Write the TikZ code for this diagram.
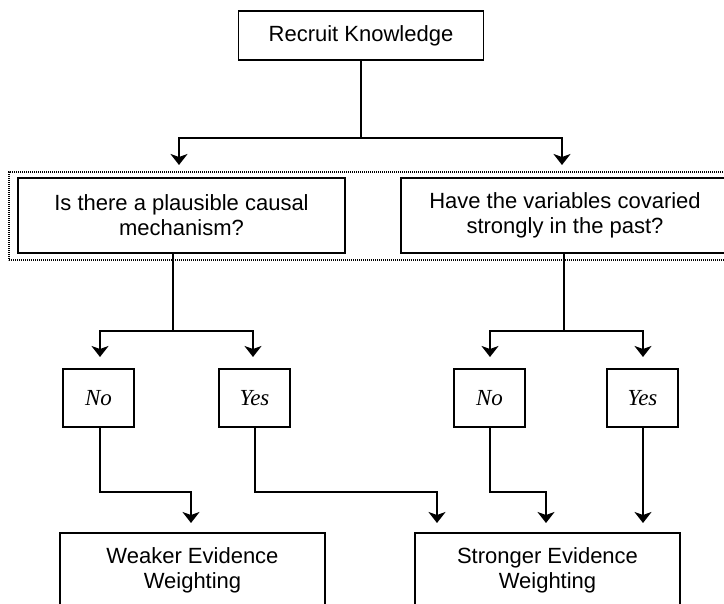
\documentclass[tikz,border=0pt]{standalone}
\usepackage{fontspec}
\setmainfont{Liberation Sans}
\newfontfamily\serifit{Liberation Serif}
\usetikzlibrary{arrows.meta}
\begin{document}
\begin{tikzpicture}[x=1pt,y=-1pt,
  box/.style={draw, line width=1.8pt, rectangle, inner sep=0pt, align=center,
    font=\fontsize{22}{25}\selectfont},
  ans/.style={box, minimum width=71pt, minimum height=58pt,
    font=\fontsize{23}{25}\selectfont\serifit\itshape},
  conn/.style={line width=1.8pt},
  arr/.style={conn, -{Stealth[length=11pt,width=17pt,inset=3pt]}},
  grp/.style={draw, line width=1.5pt, dash pattern=on 1.2pt off 0.8pt}]
\useasboundingbox (0,0) rectangle (724,604);

% nodes
\node[box, minimum width=245pt, minimum height=49pt] (rk) at (361,35.5) {Recruit Knowledge};
\node[grp, minimum width=721pt, minimum height=88pt, inner sep=0pt] (grpbox) at (369.5,216) {};
\node[box, minimum width=327pt, minimum height=75pt] (q1) at (181.5,215.5) {Is there a plausible causal\\mechanism?};
\node[box, minimum width=328pt, minimum height=75pt] (q2) at (565,215.5) {Have the variables covaried\\strongly in the past?};
\node[ans] (n1) at (98.5,398) {No};
\node[ans] (y1) at (254.5,398) {Yes};
\node[ans] (n2) at (489.5,398) {No};
\node[ans] (y2) at (642.5,398) {Yes};
\node[box, minimum width=265pt, minimum height=75pt] (w) at (192.5,570.5) {Weaker Evidence\\Weighting};
\node[box, minimum width=265pt, minimum height=75pt] (s) at (547.5,570.5) {Stronger Evidence\\Weighting};

% free ends
\coordinate (t1) at (179,165);
\coordinate (t2) at (562,165);
\coordinate (q1b) at (173,253);
\coordinate (q2b) at (564,253);
\coordinate (a1) at (100,357);
\coordinate (a2) at (253,357);
\coordinate (a3) at (490,357);
\coordinate (a4) at (643,357);
\coordinate (b1) at (191,523);
\coordinate (b2) at (437,523);
\coordinate (b3) at (546,523);
\coordinate (b4) at (643,523);

% connectors
\draw[arr] (rk.south) -- (rk.south |- 0,138) -| (t1);
\draw[arr] (rk.south |- 0,138) -| (t2);

\draw[arr] (q1b) -- (173,331) -| (a1);
\draw[arr] (173,331) -| (a2);
\draw[arr] (q2b) -- (564,331) -| (a3);
\draw[arr] (564,331) -| (a4);

\draw[arr] (n1.south -| 100,0) |- (b1 |- 0,492) -- (b1);
\draw[arr] (y1.south -| 255,0) |- (b2 |- 0,492) -- (b2);
\draw[arr] (n2.south -| 490,0) |- (b3 |- 0,492) -- (b3);
\draw[arr] (y2.south -| 643,0) -- (b4);
\end{tikzpicture}
\end{document}
